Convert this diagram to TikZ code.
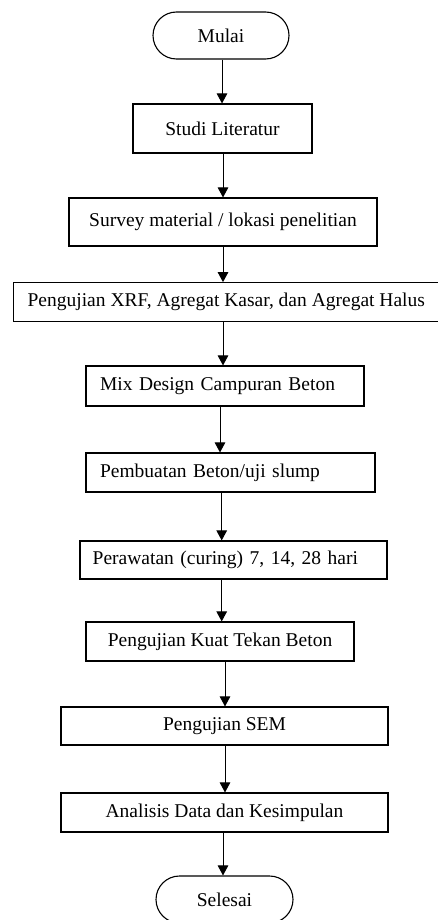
\documentclass[tikz,border=0pt]{standalone}
\usepackage{fontspec}
\setmainfont{Liberation Serif}
\usetikzlibrary{arrows.meta,shapes.misc}
\begin{document}
\begin{tikzpicture}[x=1pt,y=-1pt,
  font=\fontsize{19.5}{22}\selectfont,
  box/.style={draw, line width=1.1pt, rectangle, inner sep=0pt, anchor=center},
  lbox/.style={box, align=left},
  term/.style={draw, line width=1.1pt, rounded rectangle, inner sep=0pt, anchor=center},
  arr/.style={line width=1pt, -{Triangle[width=10.5pt,length=10pt]}}
]
\useasboundingbox (0,0) rectangle (438,920);
\node[term, minimum width=136pt, minimum height=47pt] (mulai) at (221,35.5) {Mulai};
\node[box, minimum width=179pt, minimum height=49pt] (studi) at (222.5,128.5) {Studi Literatur};
\node[box, minimum width=308pt, minimum height=48pt] (survey) at (223,222) {Survey material / lokasi penelitian};
\node[box, minimum width=426pt, minimum height=39pt] (xrf) at (226.3,302.2) {Pengujian XRF, Agregat Kasar, dan Agregat Halus};
\node[lbox, inner xsep=14pt, text width=250pt, minimum height=40pt] (mix) at (225,386) {Mix Design Campuran Beton};
\node[lbox, inner xsep=14pt, text width=261pt, minimum height=39pt] (buat) at (230.5,472.5) {Pembuatan Beton/uji slump};
\node[lbox, inner xsep=12.7pt, text width=281.6pt, minimum height=38pt] (rawat) at (233.5,560) {Perawatan (curing) 7, 14, 28 hari};
\node[box, minimum width=268pt, minimum height=39pt] (kuat) at (220,641.5) {Pengujian Kuat Tekan Beton};
\node[box, minimum width=327pt, minimum height=38pt] (sem) at (224.5,726) {Pengujian SEM};
\node[box, minimum width=327pt, minimum height=39pt] (anal) at (224.5,812.5) {Analisis Data dan Kesimpulan};
\node[term, minimum width=137pt, minimum height=47pt] (selesai) at (224.5,899.5) {Selesai};
\draw[arr] (mulai.south -| 222,0) -- (studi.north -| 222,0);
\draw[arr] (studi.south -| 223,0) -- (survey.north -| 223,0);
\draw[arr] (survey.south -| 223,0) -- (xrf.north -| 223,0);
\draw[arr] (xrf.south -| 223,0) -- (mix.north -| 223,0);
\draw[arr] (mix.south -| 220,0) -- (buat.north -| 220,0);
\draw[arr] (buat.south -| 221.7,0) -- (rawat.north -| 221.7,0);
\draw[arr] (rawat.south -| 221.7,0) -- (kuat.north -| 221.7,0);
\draw[arr] (kuat.south -| 225,0) -- (sem.north -| 225,0);
\draw[arr] (sem.south -| 225,0) -- (anal.north -| 225,0);
\draw[arr] (anal.south -| 223,0) -- (selesai.north -| 223,0);
\end{tikzpicture}
\end{document}
